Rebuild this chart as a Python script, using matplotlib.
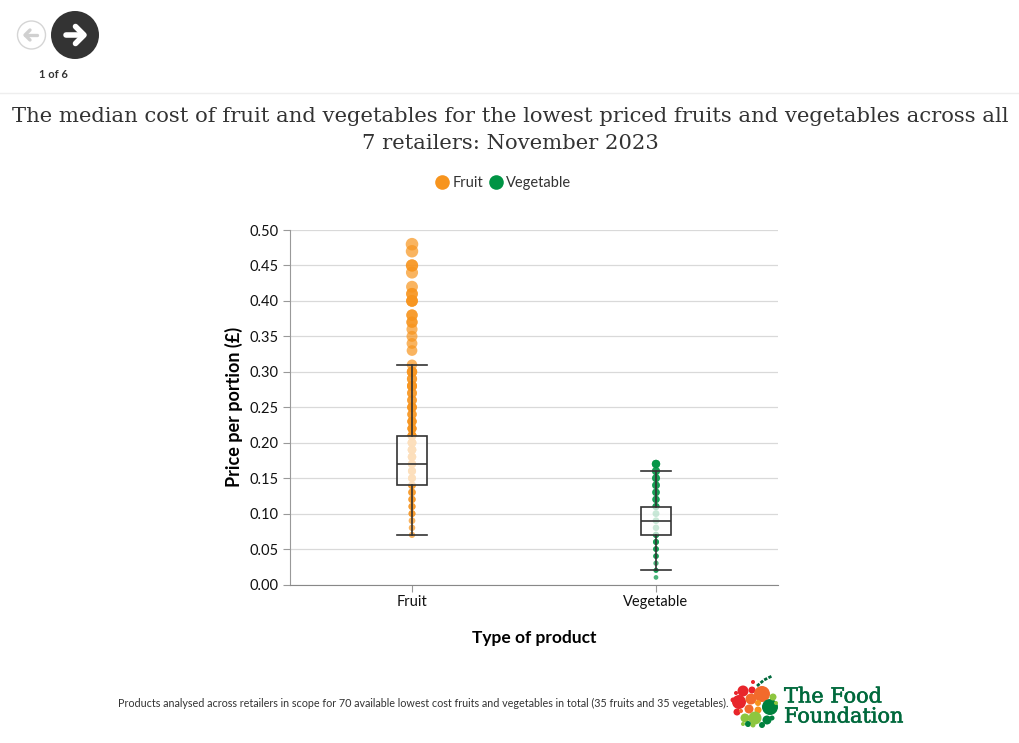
import matplotlib
matplotlib.use("Agg")
import matplotlib.pyplot as plt
import matplotlib.patheffects as pe
from matplotlib.lines import Line2D
from matplotlib.patches import Circle

# values
categories = ["Fruit", "Vegetable"]
fruit = [0.07, 0.08, 0.09, 0.10, 0.10, 0.11, 0.11, 0.12, 0.12, 0.13, 0.13, 0.14, 0.14, 0.15, 0.15, 0.15,
         0.16, 0.16, 0.16, 0.17, 0.17, 0.17, 0.18, 0.18, 0.18, 0.19, 0.19, 0.19, 0.20, 0.20, 0.20,
         0.21, 0.21, 0.21, 0.22, 0.22, 0.22, 0.23, 0.23, 0.23, 0.24, 0.24, 0.25, 0.25, 0.25,
         0.26, 0.26, 0.27, 0.27, 0.28, 0.28, 0.28, 0.29, 0.29, 0.30, 0.30, 0.30, 0.31,
         0.33, 0.34, 0.35, 0.36, 0.37, 0.37, 0.38, 0.38, 0.40, 0.40, 0.40, 0.41, 0.41, 0.42,
         0.44, 0.45, 0.45, 0.47, 0.48]
vegetable = [0.01, 0.02, 0.02, 0.03, 0.04, 0.04, 0.05, 0.05, 0.06, 0.06, 0.07, 0.07, 0.08, 0.09, 0.10, 0.11, 0.11,
             0.12, 0.12, 0.13, 0.13, 0.14, 0.14, 0.15, 0.15, 0.16, 0.16, 0.17, 0.17, 0.17]
box_stats = [
    {"whislo": 0.07, "q1": 0.14, "med": 0.17, "q3": 0.21, "whishi": 0.31},
    {"whislo": 0.02, "q1": 0.07, "med": 0.09, "q3": 0.11, "whishi": 0.16},
]
y_ticks = [0.00, 0.05, 0.10, 0.15, 0.20, 0.25, 0.30, 0.35, 0.40, 0.45, 0.50]
colors = ["#f7941d", "#009444"]

title = ("The median cost of fruit and vegetables for the lowest priced fruits and vegetables across all\n"
         "7 retailers: November 2023")
note = ("Products analysed across retailers in scope for 70 available lowest cost fruits and "
        "vegetables in total (35 fruits and 35 vegetables).")

W, H = 1020, 743
plt.rcParams["font.family"] = "Lato"
fig = plt.figure(figsize=(W / 100, H / 100), dpi=100)
ax = fig.add_axes([290 / W, 1 - 584.5 / H, 488 / W, 354.5 / H])

# points, area grows with the price
for i, vals in enumerate([fruit, vegetable]):
    sizes = [10 + 150 * v for v in vals]
    ax.scatter([i] * len(vals), vals, s=sizes, color=colors[i], alpha=0.7, linewidths=0, zorder=2)

stats = []
for name, s in zip(categories, box_stats):
    stats.append({**s, "label": name, "fliers": []})
ax.bxp(stats, positions=[0, 1], widths=0.123, patch_artist=True, showfliers=False,
       boxprops=dict(facecolor=(1, 1, 1, 0.7), edgecolor="#333333", linewidth=1.2),
       medianprops=dict(color="#333333", linewidth=1.2),
       whiskerprops=dict(color="#333333", linewidth=1.2),
       capprops=dict(color="#333333", linewidth=1.2),
       capwidths=0.123, zorder=3)

ax.set_xlim(-0.5, 1.5)
ax.set_ylim(0, 0.5)
ax.set_yticks(y_ticks)
ax.set_yticklabels(["%.2f" % t for t in y_ticks])
ax.set_xticks([0, 1])
ax.set_xticklabels(categories)
ax.tick_params(axis="y", length=5, color="#999999", labelsize=10.5, labelcolor="#111111", pad=3, width=0.8)
ax.tick_params(axis="x", length=5, color="#999999", labelsize=10.5, labelcolor="#111111", pad=2.5, width=0.8)
ax.grid(axis="y", color="#d9d9d9", linewidth=0.9, zorder=0)
ax.set_axisbelow(True)
for side in ["top", "right"]:
    ax.spines[side].set_visible(False)
ax.spines["left"].set_color("#999999")
ax.spines["bottom"].set_color("#888888")
ax.set_ylabel("Price per portion (£)", fontsize=13, fontweight="bold", labelpad=5, color="black")
ax.set_xlabel("Type of product", fontsize=12.5, fontweight="bold", labelpad=15.5, color="black")

# overlay in pixel coordinates for the page furniture
ov = fig.add_axes([0, 0, 1, 1], zorder=5)
ov.set_xlim(0, W)
ov.set_ylim(H, 0)
ov.axis("off")
ov.patch.set_alpha(0)

ov.text(510, 130, title, ha="center", va="center", fontsize=15.2, family="DejaVu Serif",
        color="#333333", linespacing=1.48)
ov.plot([0, W], [92.5, 92.5], color="#eeeeee", lw=1)

# nav buttons
ov.add_patch(Circle((31.5, 35), 14, fc="white", ec="#d5d5d5", lw=1))
ov.plot([25, 37], [35, 35], color="#d0d0d0", lw=2.4, solid_capstyle="round")
ov.plot([30, 25, 30], [30, 35, 40], color="#d0d0d0", lw=2.4, solid_capstyle="round", solid_joinstyle="round")
ov.add_patch(Circle((75, 35), 24, fc="#333333", ec="none"))
ov.plot([66, 83], [35, 35], color="white", lw=4, solid_capstyle="round")
ov.plot([75.5, 84, 75.5], [26.5, 35, 43.5], color="white", lw=4, solid_capstyle="round", solid_joinstyle="round")
ov.text(53, 74, "1 of 6", ha="center", va="center", fontsize=8, fontweight="bold", color="#333333")

ov.text(423, 703.5, note, ha="center", va="center", fontsize=7.72, color="#333333")

# legend
handles = [Line2D([], [], marker="o", ls="", ms=10.5, color=c, label=n, mew=0)
           for c, n in zip(colors, categories)]
ov.legend(handles=handles, loc="center", bbox_to_anchor=(503 / W, 1 - 183 / H), ncol=2, frameon=False,
          fontsize=10.5, handlelength=1.0, handletextpad=0.25, columnspacing=0.33, labelcolor="#333333")

# logo, built from circles
logo = [(739, 702, 7, "#e8252b"), (743, 691, 5.5, "#e8252b"), (752, 690, 3.5, "#e8252b"),
        (762, 694, 8, "#f26a2c"), (751, 699, 5.5, "#f26a2c"), (770, 707, 8, "#00813e"),
        (749, 709, 4.5, "#f26a2c"), (758, 710, 3.5, "#f7941d"), (758, 703, 3, "#f7941d"),
        (755, 718, 6.5, "#8dc63f"), (745, 718, 4.5, "#8dc63f"), (737, 712, 3.5, "#e8252b"),
        (767, 720, 4.5, "#00813e"), (773, 697, 3.5, "#8dc63f"), (762, 725, 3, "#00813e"),
        (748, 724, 3, "#00813e"), (753, 725, 2.5, "#8dc63f"), (772, 718, 2.5, "#00813e"),
        (733, 700, 2.5, "#e8252b"), (743, 724, 2, "#8dc63f"), (776, 703, 2, "#8dc63f"),
        (753, 682, 2, "#e8252b"), (741, 711, 2, "#f26a2c"), (736, 693, 2, "#e8252b")]
for x, y, r, c in logo:
    ov.add_patch(Circle((x, y), r, fc=c, ec="none"))
ov.plot([757, 764, 772], [686, 680, 676], color="#00693c", lw=2, ls=(0, (1.2, 0.5)))
for line, y in [("The Food", 697), ("Foundation", 717)]:
    ov.text(784, y, line, ha="left", va="center", fontsize=15, family="DejaVu Serif", color="#00693c",
            path_effects=[pe.withStroke(linewidth=0.4, foreground="#00693c")])

fig.savefig("out.png", dpi=100)
